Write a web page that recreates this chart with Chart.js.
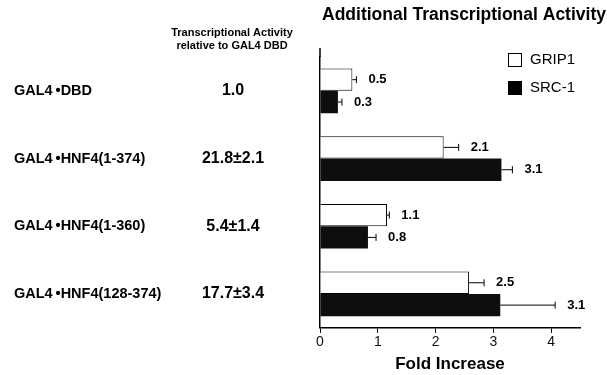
<!DOCTYPE html>
<html>
<head>
<meta charset="utf-8">
<script src="https://cdn.jsdelivr.net/npm/chart.js@4"></script>
<style>
  html, body { margin: 0; padding: 0; background: #fff; }
  #wrap { width: 607px; height: 375px; }
</style>
</head>
<body>
<div id="wrap"><canvas id="foldChart" width="607" height="375"></canvas></div>
<script>
// constructs (rows, top to bottom)
var constructs = ["GAL4\u2009\u2022DBD", "GAL4\u2009\u2022HNF4(1-374)", "GAL4\u2009\u2022HNF4(1-360)", "GAL4\u2009\u2022HNF4(128-374)"];
// transcriptional activity relative to GAL4 DBD (middle column)
var relActivity = ["1.0", "21.8\u00b12.1", "5.4\u00b11.4", "17.7\u00b13.4"];

// additional fold increase
var grip1 = [0.56, 2.14, 1.16, 2.58];
var grip1Err = [0.07, 0.26, 0.04, 0.26];
var grip1Labels = ["0.5", "2.1", "1.1", "2.5"];

var src1 = [0.31, 3.14, 0.83, 3.12];
var src1Err = [0.07, 0.19, 0.14, 0.95];
var src1Labels = ["0.3", "3.1", "0.8", "3.1"];

var xTicks = [0, 1, 2, 3, 4];

var BOLD = '"Liberation Sans", Arial, Helvetica, sans-serif';
var NARROW = '"Liberation Sans Narrow", "Liberation Sans", Arial, sans-serif';

// error bars, value labels and the text around the plot
var annotate = {
  id: 'annotate',
  afterDatasetsDraw: function(chart) {
    var ctx = chart.ctx;
    var xs = chart.scales.x;
    var errs = [grip1Err, src1Err];
    var labs = [grip1Labels, src1Labels];
    ctx.save();
    chart.data.datasets.forEach(function(ds, di) {
      var meta = chart.getDatasetMeta(di);
      meta.data.forEach(function(bar, i) {
        var x0 = bar.x;
        var x1 = xs.getPixelForValue(ds.data[i] + errs[di][i]);
        var y = bar.y;
        ctx.strokeStyle = '#000';
        ctx.lineWidth = 1;
        ctx.beginPath();
        ctx.moveTo(x0, y); ctx.lineTo(x1, y);
        ctx.moveTo(x1, y - 3.5); ctx.lineTo(x1, y + 3.5);
        ctx.stroke();
        ctx.fillStyle = '#000';
        ctx.font = 'bold 13px ' + BOLD;
        ctx.textAlign = 'left';
        ctx.textBaseline = 'middle';
        ctx.fillText(labs[di][i], x1 + 12, y);
      });
    });
    ctx.restore();
  },
  afterDraw: function(chart) {
    var ctx = chart.ctx;
    var ys = chart.scales.y;
    var area = chart.chartArea;
    ctx.save();
    ctx.fillStyle = '#000';
    ctx.textBaseline = 'middle';

    // y axis line runs a little above the plot
    ctx.strokeStyle = '#000';
    ctx.lineWidth = 1.5;
    ctx.beginPath();
    ctx.moveTo(area.left, area.top - 9);
    ctx.lineTo(area.left, area.top);
    ctx.stroke();

    // title
    ctx.font = 'bold 17.5px ' + BOLD;
    ctx.textAlign = 'center';
    ctx.fillText('Additional Transcriptional Activity', 464, 15);

    // middle column header
    ctx.font = 'bold 11px ' + BOLD;
    ctx.fillText('Transcriptional Activity', 232, 33);
    ctx.fillText('relative to GAL4 DBD', 232, 46);

    constructs.forEach(function(name, i) {
      var y = ys.getPixelForValue(i);
      ctx.font = 'bold 14.5px ' + BOLD;
      ctx.textAlign = 'left';
      ctx.fillText(name, 14, y);
      ctx.font = 'bold 16px ' + BOLD;
      ctx.textAlign = 'center';
      ctx.fillText(relActivity[i], 233, y);
    });

    // legend
    ctx.lineWidth = 1;
    ctx.strokeRect(508.5, 53.5, 13, 13);
    ctx.fillRect(508, 81, 14, 14);
    ctx.font = '15px ' + NARROW;
    ctx.textAlign = 'left';
    ctx.fillText('GRIP1', 530, 60);
    ctx.fillText('SRC-1', 530, 88);
    ctx.restore();
  }
};

var ctx = document.getElementById('foldChart').getContext('2d');
var foldChart = new Chart(ctx, {
  type: 'bar',
  data: {
    labels: constructs,
    datasets: [{
      label: 'GRIP1',
      data: grip1,
      backgroundColor: '#fff',
      borderColor: '#000',
      borderWidth: 1,
      barPercentage: 1.0,
      categoryPercentage: 0.66
    }, {
      label: 'SRC-1',
      data: src1,
      backgroundColor: '#0e0e0e',
      borderWidth: 0,
      barPercentage: 1.0,
      categoryPercentage: 0.66
    }]
  },
  options: {
    indexAxis: 'y',
    responsive: false,
    animation: false,
    layout: { padding: { left: 320, right: 27, top: 57, bottom: 0 } },
    plugins: {
      legend: { display: false },
      tooltip: { enabled: false }
    },
    scales: {
      x: {
        min: 0,
        max: 4.5,
        afterBuildTicks: function(axis) {
          axis.ticks = xTicks.map(function(v) { return { value: v }; });
        },
        ticks: {
          color: '#111',
          font: { family: NARROW, size: 14 },
          padding: 1
        },
        grid: { drawOnChartArea: false, drawTicks: true, tickLength: 5, tickColor: '#000' },
        border: { color: '#000', width: 1.5 },
        title: {
          display: true,
          text: 'Fold Increase',
          color: '#000',
          font: { family: BOLD, size: 17, weight: 'bold' },
          padding: { top: 3, bottom: 0 }
        }
      },
      y: {
        ticks: { display: false },
        grid: { display: false, drawTicks: false },
        border: { color: '#000', width: 1.5 }
      }
    }
  },
  plugins: [annotate]
});
</script>
</body>
</html>
